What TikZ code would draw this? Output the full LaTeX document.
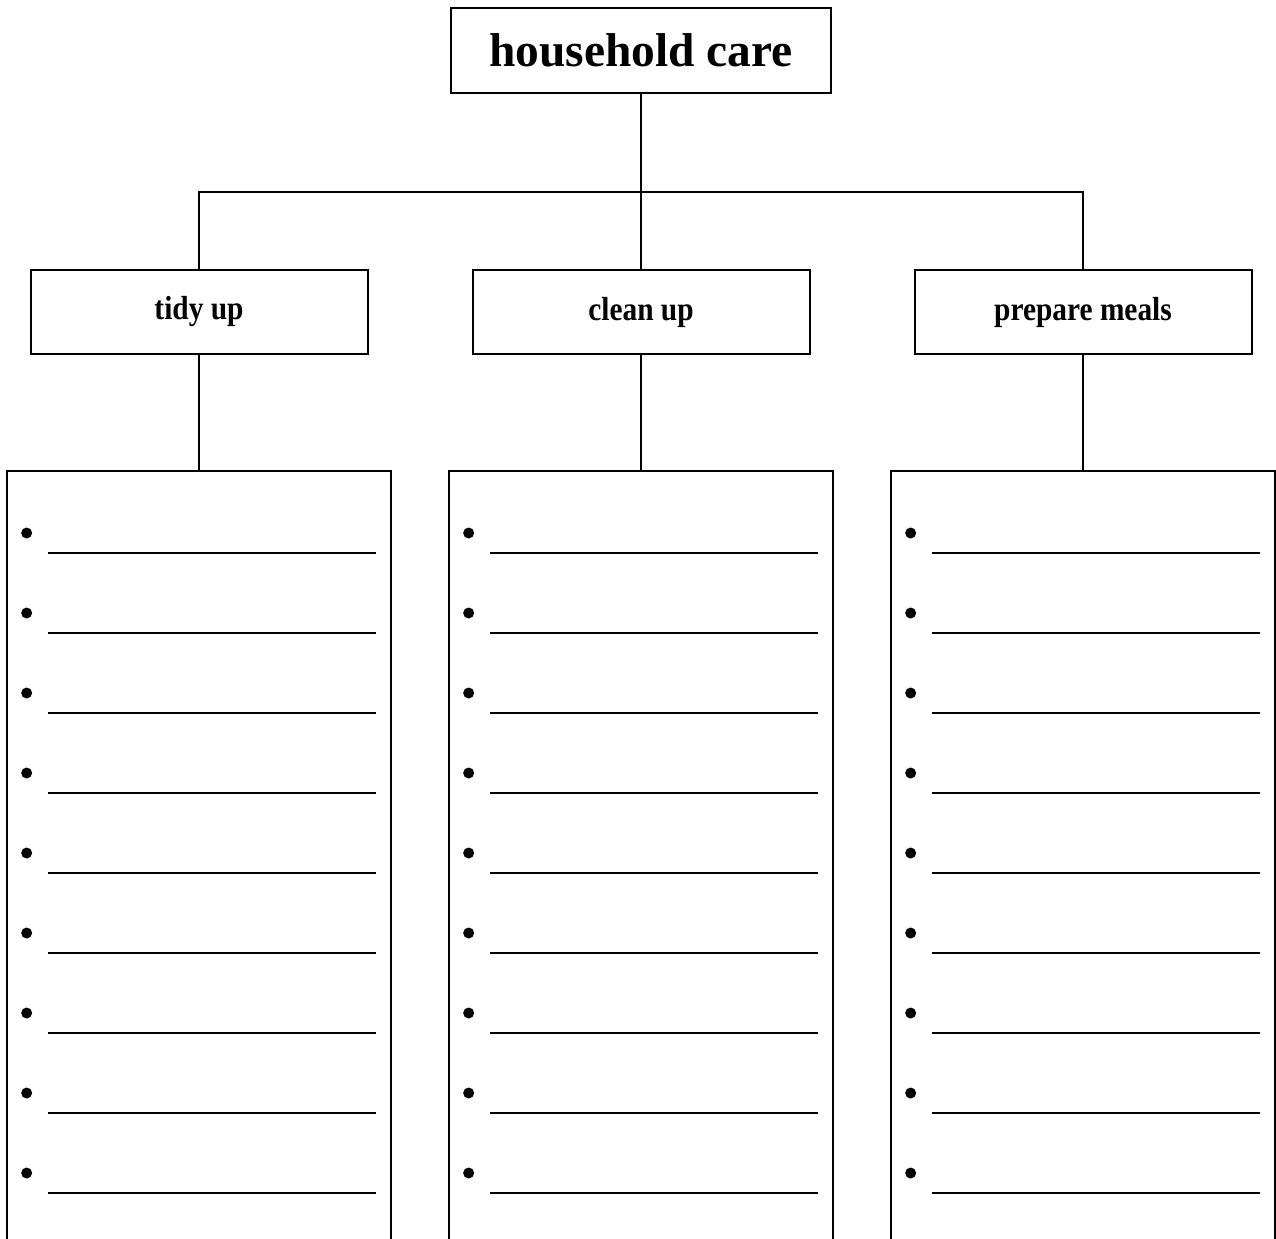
\documentclass[tikz,border=0pt]{standalone}
\usepackage{fontspec}
\setmainfont{Liberation Serif}
\newfontfamily\narrowserif[FakeStretch=0.88]{Liberation Serif}
\usetikzlibrary{positioning, calc}
\tikzset{
  topic/.style={draw, line width=0.4mm, minimum width=7.6cm, minimum height=1.7cm, inner sep=0pt, font=\fontsize{27}{32}\selectfont\bfseries},
  task/.style={draw, line width=0.4mm, minimum width=6.74cm, minimum height=1.68cm, inner sep=0pt, font=\narrowserif\fontsize{19}{23}\selectfont\bfseries},
  listbox/.style={minimum width=7.68cm, minimum height=15.6cm, inner sep=0pt},
  link/.style={line width=0.4mm},
  blank/.style={line width=0.4mm}
}

\begin{document}
\begin{tikzpicture}
  \useasboundingbox (0,0) rectangle (25.52,-24.76);
  \clip (0,0) rectangle (25.52,-24.76);

  \node[topic] (hc) at (12.82,-1.01) {household care};

  \node[task,below=3.5cm of hc] (clean) {clean up};
  \node[task,left=2.06cm of clean] (tidy) {tidy up};
  \node[task,right=2.06cm of clean] (meals) {prepare meals};

  \coordinate (fork) at ($(hc.south)+(0,-1.96)$);
  \draw[link] (hc) -- (fork);
  \draw[link] (tidy) |- (fork) -| (meals);
  \draw[link] (fork) -- (clean);

  % open-bottom boxes with blanks to fill in
  \foreach \col in {tidy,clean,meals} {
    \node[listbox,below=2.32cm of \col] (\col list) {};
    \draw[link] (\col) -- (\col list);
    \draw[link] (\col list.south west) |- (\col list.north east) -- (\col list.south east);
    \foreach \k in {0,...,8} {
      \fill ($(\col list.north west)+(0.4,-1.24-1.6*\k)$) circle (1.1mm);
      \draw[blank] ($(\col list.north west)+(0.82,-1.64-1.6*\k)$) -- ++(6.56,0);
    }
  }
\end{tikzpicture}
\end{document}
